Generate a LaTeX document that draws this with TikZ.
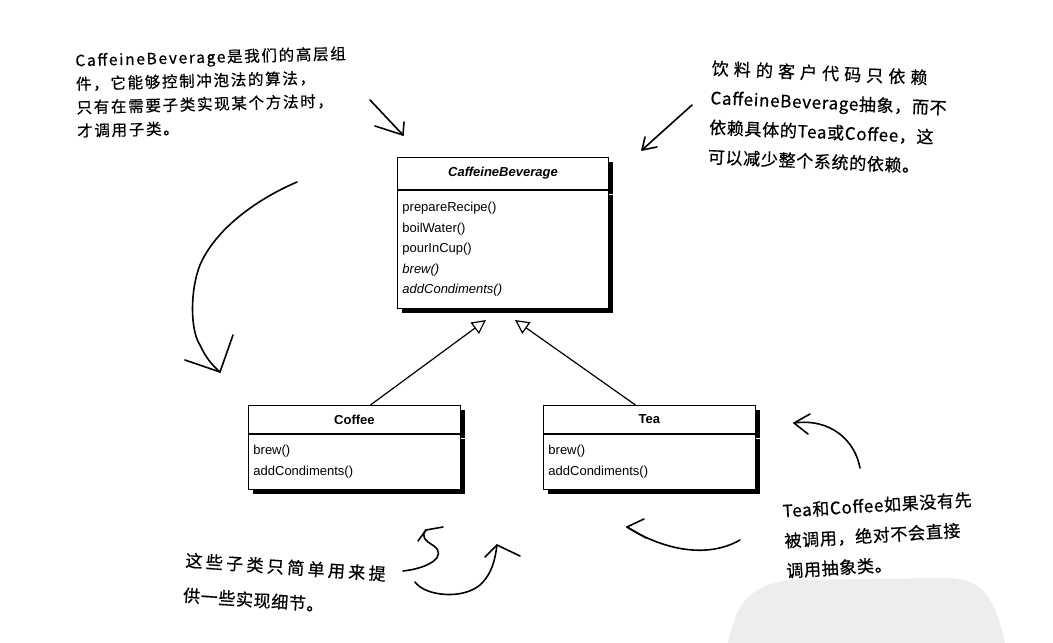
\documentclass[tikz,border=0pt]{standalone}
\usepackage{fontspec}
\setmainfont{Liberation Sans}
\newfontfamily\cjk[LetterSpace=4,FakeBold=0.6]{Noto Sans CJK SC}
\newcommand{\wider}[2]{{\addfontfeature{LetterSpace=#1}#2}}
\usetikzlibrary{arrows.meta,shadows,calc}
\begin{document}
\begin{tikzpicture}[x=1pt,y=-1pt,
  classtitle/.style={draw, line width=0.9pt, fill=white, inner sep=0pt,
     font=\fontsize{13}{15}\selectfont\bfseries,
     drop shadow={shadow xshift=5pt, shadow yshift=-5pt, opacity=1, fill=black}},
  classbody/.style={draw, line width=0.9pt, fill=white, inner xsep=5pt, inner ysep=0pt,
     align=left, font=\fontsize{13}{20.5}\selectfont,
     drop shadow={shadow xshift=5pt, shadow yshift=-5pt, opacity=1, fill=black}},
  inherit/.style={line width=1.2pt, -{Triangle[open, length=14pt, width=14pt, line width=1.2pt, fill=white]}},
  hand/.style={line width=1.6pt, line cap=round, line join=round},
  note/.style={inner sep=0pt, align=left}
]
\useasboundingbox (0,0) rectangle (1053,643);

% watermark blob
\fill[black!7] (728,643) .. controls (735,610) and (745,585) .. (790,580)
   -- (950,578) .. controls (985,580) and (995,600) .. (1005,643) -- cycle;

% CaffeineBeverage
\node[classtitle, minimum width=211pt, minimum height=32pt, anchor=north west]
   (cb) at (397,157) {\itshape CaffeineBeverage};
\node[classbody, minimum width=211pt, text width=201pt, minimum height=118pt, anchor=north]
   (cbm) at (cb.south) {prepareRecipe()\\boilWater()\\pourInCup()\\\textit{brew()}\\\textit{addCondiments()}};

% Coffee
\node[classtitle, minimum width=212pt, minimum height=28pt, anchor=north west]
   (cof) at (248,405) {Coffee};
\node[classbody, minimum width=212pt, text width=202pt, minimum height=55pt, anchor=north]
   (cofm) at (cof.south) {brew()\\addCondiments()};

% Tea
\node[classtitle, minimum width=212pt, minimum height=28pt, anchor=north west]
   (tea) at (543,405) {Tea};
\node[classbody, minimum width=212pt, text width=202pt, minimum height=55pt, anchor=north]
   (team) at (tea.south) {brew()\\addCondiments()};

% inheritance
\coordinate (h1) at (486,320);
\coordinate (h2) at (515,320);
\draw[inherit] ($(cof.north)+(16,0)$) -- (h1);
\draw[inherit] ($(tea.north)+(-14,0)$) -- (h2);

% notes
\node[note, rotate=1.5, anchor=north west, font=\cjk\fontsize{15.5}{23.5}\selectfont\addfontfeature{LetterSpace=11}]
  (n1) at (75,53) {CaffeineBeverage是我们的高层组\\件，它能够控制冲泡法的算法，\\只有在需要子类实现某个方法时，\\才调用子类。};
\node[note, rotate=-2.5, anchor=north west, font=\cjk\fontsize{17}{29.5}\selectfont]
  (n2) at (712,60) {\wider{30}{饮料的客户代码只依赖}\\CaffeineBeverage抽象，而不\\依赖具体的Tea或Coffee，这\\可以减少整个系统的依赖。};
\node[note, rotate=-4, anchor=north west, font=\cjk\fontsize{17}{35}\selectfont]
  (n3) at (186,552) {\wider{20}{这些子类只简单用来提}\\供一些实现细节。};
\node[note, rotate=3.5, anchor=north west, font=\cjk\fontsize{17}{30}\selectfont]
  (n4) at (782,503) {Tea和Coffee如果没有先\\被调用，绝对不会直接\\调用抽象类。};

% hand-drawn arrows
\draw[hand] (370,100) -- (403,135);
\draw[hand] (375,126) -- (403,135) -- (404,122);

\draw[hand] (692,105) -- (642,150);
\draw[hand] (657,147) -- (642,150) -- (645,137);

\draw[hand] (297,182) .. controls (255,200) and (215,230) .. (200,265)
   .. controls (190,290) and (190,330) .. (200,345) .. controls (206,358) and (212,365) .. (220,372);
\draw[hand] (185,360) -- (220,372) -- (233,335);

\draw[hand] (403,571) .. controls (430,568) and (447,556) .. (434,546)
   .. controls (424,540) and (421,536) .. (426,530);
\draw[hand] (418,541) -- (426,530) -- (443,527);

\draw[hand] (415,582) .. controls (425,596) and (462,600) .. (480,585)
   .. controls (492,574) and (495,560) .. (497,545);
\draw[hand] (485,557) -- (497,545) -- (520,556);

\draw[hand] (740,540) .. controls (705,560) and (660,548) .. (627,527);
\draw[hand] (644,519) -- (627,527) -- (646,538);

\draw[hand] (860,468) .. controls (855,440) and (830,418) .. (794,423);
\draw[hand] (810,414) -- (794,423) -- (808,434);
\end{tikzpicture}
\end{document}
